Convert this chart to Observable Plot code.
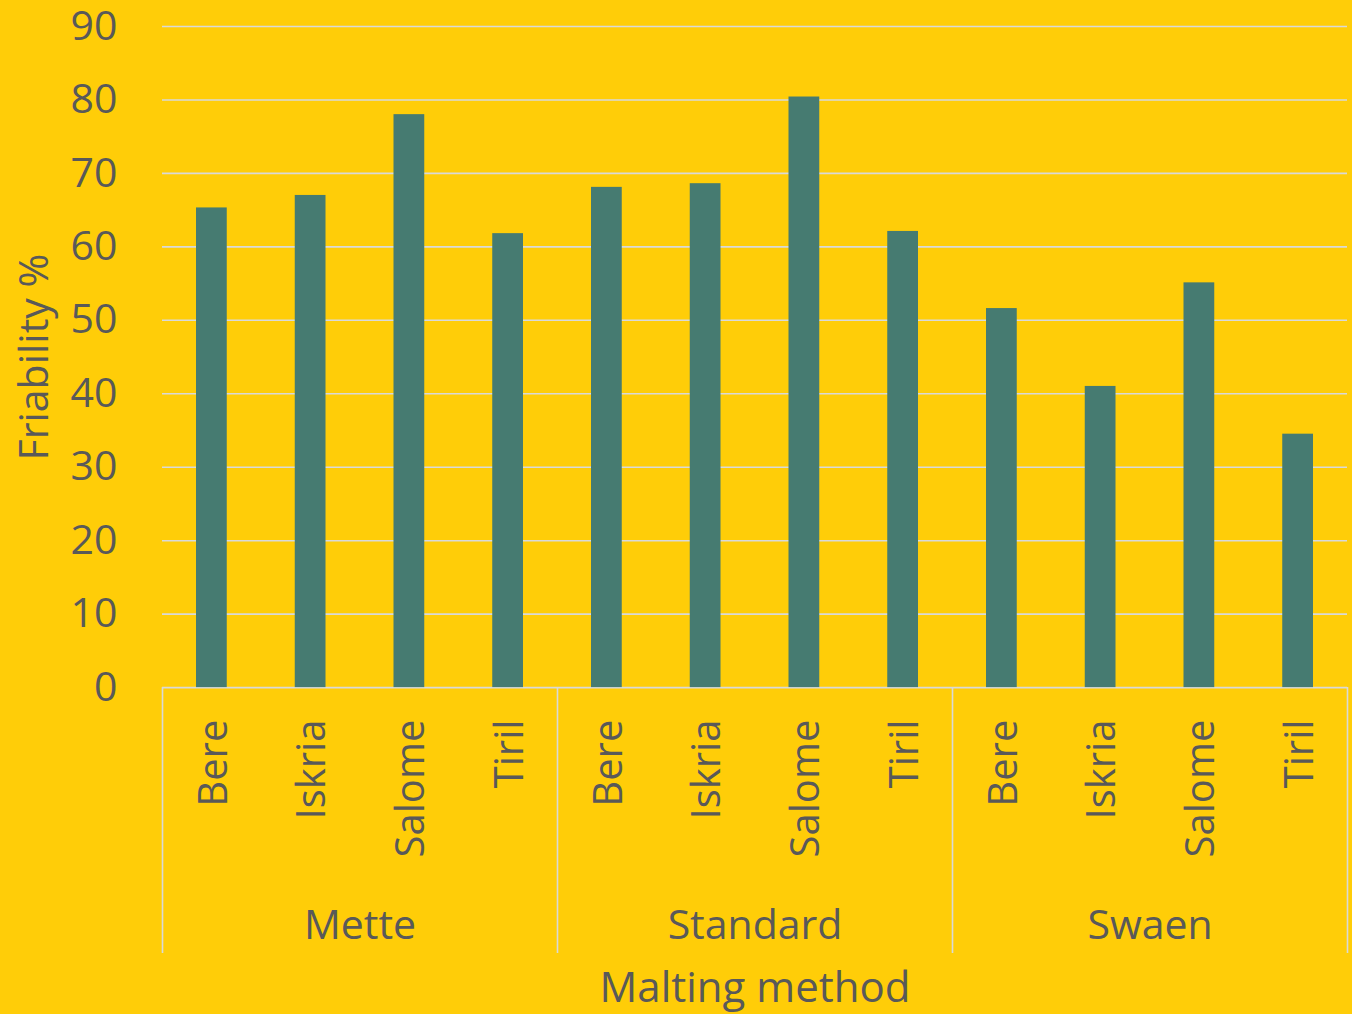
<!DOCTYPE html>
<html>
<head>
<meta charset="utf-8">
<script src="https://cdn.jsdelivr.net/npm/d3@7"></script>
<script src="https://cdn.jsdelivr.net/npm/@observablehq/plot@0.6"></script>
<style>
  html, body { margin: 0; padding: 0; background: #FFCD08; }
  #chart svg { display: block; }
</style>
</head>
<body>
<div id="chart"></div>
<script>
const groups = ["Mette", "Standard", "Swaen"];
const varieties = ["Bere", "Iskria", "Salome", "Tiril"];
const metteValues = [65.3, 67.0, 78.0, 61.8];
const standardValues = [68.1, 68.6, 80.4, 62.1];
const swaenValues = [51.6, 41.0, 55.1, 34.5];
const yTicks = [0, 10, 20, 30, 40, 50, 60, 70, 80, 90];
const yLabel = "Friability %";
const xLabel = "Malting method";

const seriesByGroup = [metteValues, standardValues, swaenValues];
const data = [];
groups.forEach((g, gi) => {
  varieties.forEach((v, vi) => {
    data.push({group: g, variety: v, value: seriesByGroup[gi][vi], i: gi * varieties.length + vi});
  });
});
const groupData = groups.map((g, gi) => ({group: g, start: gi * varieties.length, center: gi * varieties.length + varieties.length / 2}));
const edges = d3.range(groups.length + 1).map(k => k * varieties.length);

const textColor = "#595959";
const gridColor = "#D9D9D9";
const barColor = "#467B71";
const font = "'Open Sans', sans-serif";
const yMin = -36.2;

const chart = Plot.plot({
  width: 1352,
  height: 1014,
  marginLeft: 162,
  marginRight: 5,
  marginTop: 26,
  marginBottom: 61,
  style: {background: "#FFCD08", fontFamily: font, color: textColor, overflow: "visible"},
  x: {type: "linear", domain: [0, groups.length * varieties.length], axis: null},
  y: {domain: [yMin, 90], axis: null},
  marks: [
    Plot.ruleY(yTicks, {y: d => d, stroke: gridColor, strokeWidth: 1.6}),
    Plot.ruleX(edges, {x: d => d, y1: 0, y2: yMin, stroke: gridColor, strokeWidth: 1.6}),
    Plot.rectY(data, {x1: "i", x2: d => d.i + 1, y1: 0, y2: "value", fill: barColor, insetLeft: 34, insetRight: 34}),
    Plot.text(yTicks, {x: 0, y: d => d, text: d => String(d), textAnchor: "end", dx: -45, fontSize: 41, fill: textColor}),
    Plot.text(data, {x: d => d.i + 0.5, y: 0, text: "variety", rotate: -90, textAnchor: "end", dy: 32, dx: 2, fontSize: 40, fill: textColor}),
    Plot.text(groupData, {x: "center", y: 0, text: "group", dy: 238, fontSize: 41, fill: textColor}),
    Plot.text([xLabel], {x: groups.length * varieties.length / 2, y: 0, text: d => d, dy: 301, fontSize: 42, fill: textColor}),
    Plot.text([yLabel], {x: 0, y: 45, text: d => d, rotate: -90, dx: -128, fontSize: 41, fill: textColor})
  ]
});
document.getElementById("chart").appendChild(chart);
</script>
</body>
</html>
